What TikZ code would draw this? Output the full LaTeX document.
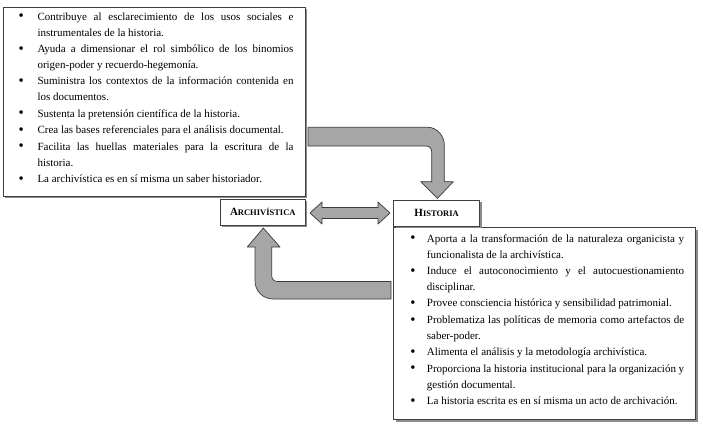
\documentclass[tikz,border=0pt]{standalone}
\usepackage{fontspec}
\setmainfont{Liberation Serif}
\usepackage{enumitem}
\definecolor{boxline}{HTML}{404040}
\definecolor{shadowgray}{HTML}{8C8C8C}
\definecolor{arrowfill}{HTML}{A6A6A6}
\definecolor{arrowline}{HTML}{3A3A3A}
\tikzset{
  framebox/.style={draw=boxline, fill=white, line width=0.6pt, inner sep=0pt, anchor=north west},
  shadowbox/.style={fill=shadowgray, draw=none, inner sep=0pt, anchor=north west},
  blockarrow/.style={fill=arrowfill, draw=arrowline, line width=0.7pt, line join=round},
  listtext/.style={inner sep=0pt, anchor=base west},
  headtext/.style={inner sep=0pt, font=\bfseries}
}
\newcommand{\bigbul}{\raisebox{-0.4pt}{\scalebox{1.35}{\textbullet}}}
\newcommand{\mylist}[3]{%
  \begin{minipage}[t]{#1}%
  \fontsize{11}{15.5}\selectfont
  \hyphenpenalty=10000 \exhyphenpenalty=10000
  \begin{itemize}[label=\bigbul, leftmargin=#2, labelwidth=4pt, labelsep=#3, labelindent=0pt, align=right, topsep=0pt, partopsep=0pt, parsep=0pt, itemsep=1.2pt]
}
\newcommand{\mylistend}{\end{itemize}\end{minipage}}
\newcommand{\sch}[2]{{\fontsize{11}{13}\selectfont #1}{\fontsize{8.5}{10}\selectfont #2}}
\begin{document}
\begin{tikzpicture}[x=1pt,y=-1pt]
\useasboundingbox (0,0) rectangle (703,424);
\fill[white] (0,0) rectangle (703,424);
% block arrows
\draw[blockarrow] (308,127.3) -- (428,127.3) .. controls (437,127.3) and (444.3,136) .. (444.3,145) -- (444.3,181.7) -- (453.3,181.7) -- (437.5,198.3) -- (420.7,181.7) -- (431.7,181.7) -- (431.7,152) .. controls (431.7,148.5) and (429.5,146) .. (426,146) -- (308,146) -- cycle;
\draw[blockarrow] (391,281.5) -- (277.5,281.5) .. controls (274,281.5) and (271.7,279) .. (271.7,275.5) -- (271.7,247) -- (280,247) -- (263.3,228) -- (247.3,247) -- (255,247) -- (255,281) .. controls (255,291) and (263,299) .. (273,299) -- (391,299) -- cycle;
\draw[blockarrow] (310,213) -- (322,202) -- (322,207.5) -- (378,207.5) -- (378,202) -- (390,213) -- (378,224) -- (378,218.5) -- (322,218.5) -- (322,224) -- cycle;
% top list box
\node[shadowbox, minimum width=302pt, minimum height=189pt] (archshadow) at (5,9) {};
\node[framebox, minimum width=302pt, minimum height=189pt] (archbox) at (3,7) {};
\node[listtext] (archlist) at (19.7,20.5) {\mylist{273.6pt}{17.6pt}{13.6pt}
\item Contribuye al esclarecimiento de los usos sociales e\linebreak instrumentales de la historia.
\item Ayuda a dimensionar el rol simbólico de los binomios\linebreak origen-poder y recuerdo-hegemonía.
\item Suministra los contextos de la información contenida en\linebreak los documentos.
\item Sustenta la pretensión científica de la historia.
\item Crea las bases referenciales para el análisis documental.
\item Facilita las huellas materiales para la escritura de la\linebreak historia.
\item La archivística es en sí misma un saber historiador.
\mylistend};
% bottom list box
\node[shadowbox, minimum width=302pt, minimum height=192pt] (histshadow) at (396,229.5) {};
\node[framebox, minimum width=302pt, minimum height=192pt] (histbox) at (393.3,227.3) {};
\node[listtext] (histlist) at (411.3,242.5) {\mylist{272.7pt}{15.4pt}{11.4pt}
\item Aporta a la transformación de la naturaleza organicista y\linebreak funcionalista de la archivística.
\item Induce el autoconocimiento y el autocuestionamiento\linebreak disciplinar.
\item Provee consciencia histórica y sensibilidad patrimonial.
\item Problematiza las políticas de memoria como artefactos de\linebreak saber-poder.
\item Alimenta el análisis y la metodología archivística.
\item Proporciona la historia institucional para la organización y\linebreak gestión documental.
\item La historia escrita es en sí misma un acto de archivación.
\mylistend};
% heading boxes
\node[shadowbox, minimum width=85pt, minimum height=26pt] (archheadshadow) at (222,201) {};
\node[framebox, minimum width=85pt, minimum height=26pt] (archhead) at (220,199) {};
\node[headtext] (archheadtext) at (archhead.center) {\sch{A}{RCHIVÍSTICA}};
\node[shadowbox, minimum width=86pt, minimum height=26pt] (histheadshadow) at (395.3,202) {};
\node[framebox, minimum width=86pt, minimum height=26pt] (histhead) at (393.3,200) {};
\node[headtext] (histheadtext) at (histhead.center) {\sch{H}{ISTORIA}};
\end{tikzpicture}
\end{document}
